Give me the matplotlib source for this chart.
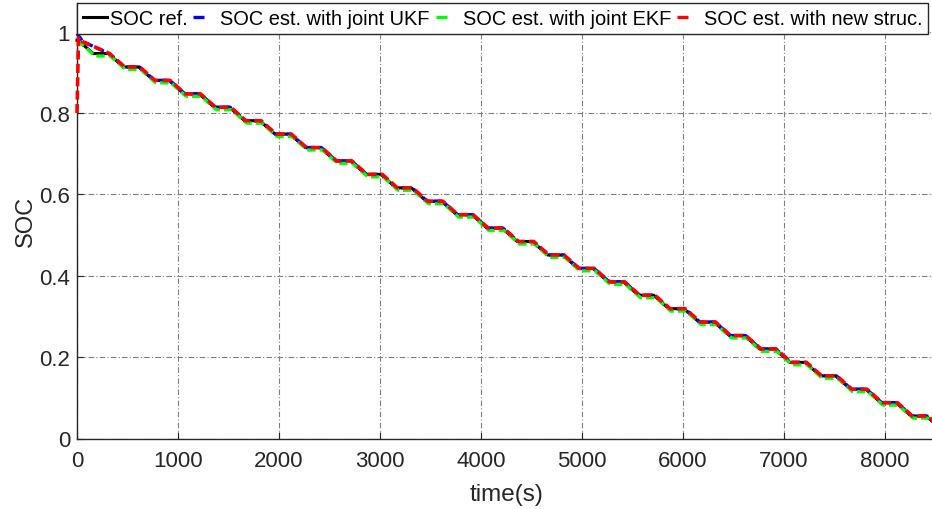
import numpy as np
import matplotlib
matplotlib.use('Agg')
import matplotlib.pyplot as plt
from matplotlib.lines import Line2D
from matplotlib.ticker import FuncFormatter

plt.rcParams['font.family'] = ['Liberation Sans', 'DejaVu Sans']

# ---- data ----
# rest periods (plateaus) of the pulse discharge test, in seconds
rest_start = [160, 460, 760, 1060, 1360, 1660, 1960, 2260, 2560, 2860,
              3160, 3460, 3760, 4060, 4360, 4660, 4960, 5260, 5560, 5860,
              6160, 6460, 6760, 7060, 7360, 7660, 7960, 8260]
rest_end = [310, 610, 910, 1210, 1510, 1810, 2110, 2410, 2710, 3010,
            3310, 3610, 3910, 4210, 4510, 4810, 5110, 5410, 5710, 6010,
            6310, 6610, 6910, 7210, 7510, 7810, 8110, 8410]
# SOC reference on each plateau
soc_ref_levels = [0.946, 0.913, 0.880, 0.847, 0.814, 0.781, 0.748, 0.715,
                  0.682, 0.649, 0.616, 0.583, 0.550, 0.517, 0.484, 0.451,
                  0.418, 0.385, 0.352, 0.319, 0.286, 0.253, 0.220, 0.187,
                  0.154, 0.121, 0.088, 0.055]
# joint EKF sits a little under the reference
soc_ekf_levels = [0.940, 0.907, 0.874, 0.841, 0.808, 0.775, 0.742, 0.709,
                  0.676, 0.643, 0.610, 0.577, 0.544, 0.511, 0.478, 0.445,
                  0.412, 0.379, 0.346, 0.313, 0.280, 0.247, 0.214, 0.181,
                  0.148, 0.115, 0.082, 0.050]
soc_start = 0.979
soc_end_t, soc_end = 8500, 0.035

# start-up transients of the estimators
ukf_init_t = [0, 30, 60]
ukf_init_v = [0.995, 0.985, 0.975]
new_init_t = [0, 15, 50]
new_init_v = [0.80, 0.985, 0.976]
ekf_init_t = [0, 20]
ekf_init_v = [0.975, 0.975]

xticks = [0, 1000, 2000, 3000, 4000, 5000, 6000, 7000, 8000]
yticks = [0, 0.2, 0.4, 0.6, 0.8, 1.0]
labels = ['SOC ref.', 'SOC est. with joint UKF',
          'SOC est. with joint EKF', 'SOC est. with new struc.']
colors = ['black', 'blue', '#00ff00', 'red']


def staircase(levels, lag=0.0):
    t = [10 + lag]
    v = [soc_start]
    for a, b, lv in zip(rest_start, rest_end, levels):
        t += [a + lag, b + lag]
        v += [lv, lv]
    slope = (levels[-1] - soc_end) / (soc_end_t - rest_end[-1])
    t.append(soc_end_t)
    v.append(levels[-1] - slope * (soc_end_t - rest_end[-1] - lag))
    return np.array(t), np.array(v)


t_ref, v_ref = staircase(soc_ref_levels)
t_ref = np.r_[0, t_ref]
v_ref = np.r_[soc_start, v_ref]

t_ukf, v_ukf = staircase(soc_ref_levels, lag=8)
t_ukf = np.r_[ukf_init_t, t_ukf[2:]]
v_ukf = np.r_[ukf_init_v, v_ukf[2:]]

t_ekf, v_ekf = staircase(soc_ekf_levels, lag=20)
t_ekf = np.r_[ekf_init_t, t_ekf[1:]]
v_ekf = np.r_[ekf_init_v, v_ekf[1:]]

t_new, v_new = staircase(soc_ref_levels, lag=12)
t_new = np.r_[new_init_t, t_new[2:]]
v_new = np.r_[new_init_v, v_new[2:]]

# ---- figure ----
fig = plt.figure(figsize=(9.32, 5.10), dpi=100)
ax = fig.add_axes([77 / 932, 70.5 / 510, 858.5 / 932, 435.2 / 510])

dash = (0, (2.5, 1.2))
ax.plot(t_ref, v_ref, color=colors[0], lw=2.2, zorder=3, clip_on=False)
ax.plot(t_ukf, v_ukf, color=colors[1], lw=2.4, ls=dash, zorder=4, clip_on=False)
ax.plot(t_ekf, v_ekf, color=colors[2], lw=2.4, ls=dash, zorder=4, clip_on=False)
ax.plot(t_new, v_new, color=colors[3], lw=2.6, ls=dash, zorder=5, clip_on=False)

ax.set_xlim(0, 8500)
ax.set_ylim(0, 1.0695)
ax.set_xticks(xticks)
ax.set_yticks(yticks)
ax.yaxis.set_major_formatter(FuncFormatter(lambda v, p: '%g' % v))

axc = '#262626'
ax.grid(True, color='#808080', lw=0.8, ls=(0, (5, 2, 1, 2)))
ax.set_axisbelow(True)
ax.spines['top'].set_visible(False)
ax.spines['right'].set_visible(False)
for s in ['left', 'bottom']:
    ax.spines[s].set_color(axc)
    ax.spines[s].set_linewidth(1.0)
ax.tick_params(direction='in', length=5, width=0.8, color=axc,
               labelcolor=axc, labelsize=16)
ax.tick_params(axis='x', pad=8)
ax.tick_params(axis='y', pad=5)

ax.set_xlabel('time(s)', fontsize=17.5, color=axc, labelpad=9)
ax.set_ylabel('SOC', fontsize=17, color=axc, labelpad=2)

# legend with short proxy handles (one dash visible)
handles = [Line2D([], [], color=colors[0], lw=2.2)]
for c in colors[1:]:
    handles.append(Line2D([], [], color=c, lw=2.4, ls=(0, (3.3, 8))))
leg = ax.legend(handles, labels, loc='upper left', bbox_to_anchor=(0, 1),
                ncol=4, fontsize=14.4, frameon=True, fancybox=False,
                borderaxespad=0, borderpad=0.28, handlelength=1.2,
                handletextpad=0.15, columnspacing=0.3, framealpha=1)
leg.get_frame().set_edgecolor(axc)
leg.get_frame().set_linewidth(1.0)
leg.set_zorder(10)

fig.savefig('out.png', dpi=100)
